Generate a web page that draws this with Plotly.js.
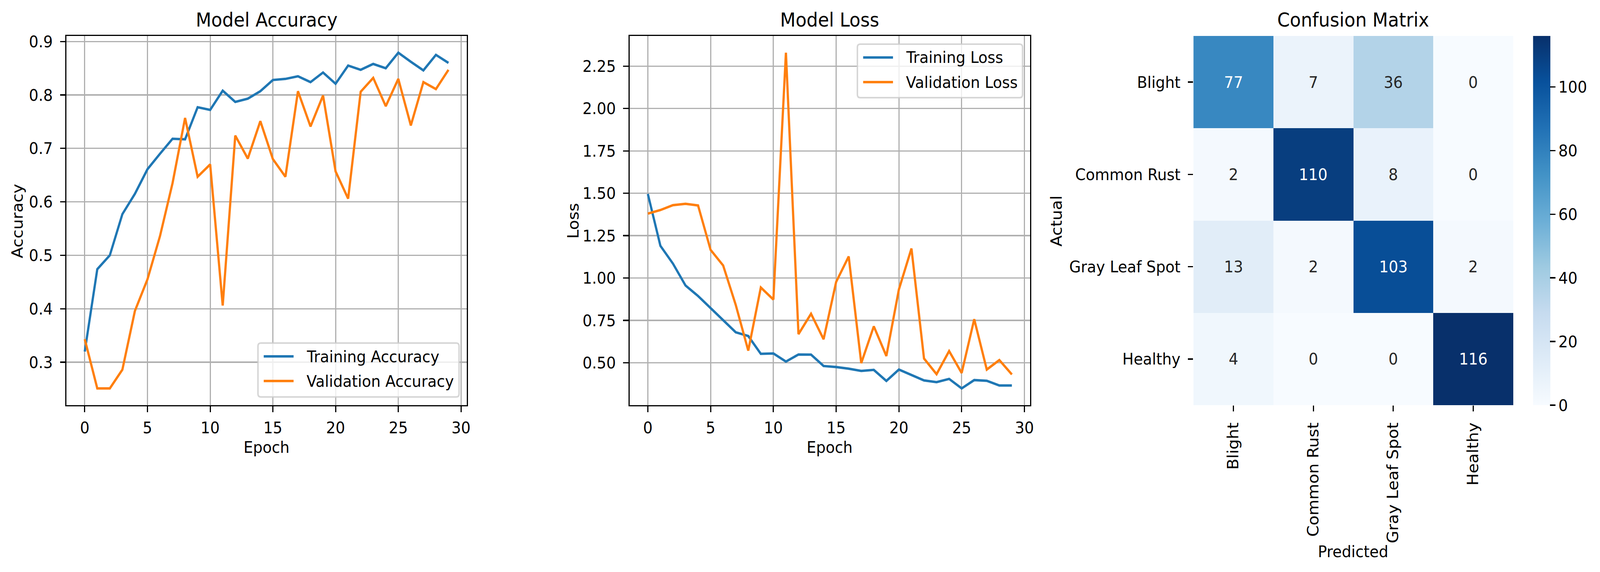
<!DOCTYPE html>
<html>
<head>
<meta charset="utf-8">
<script src="https://cdn.plot.ly/plotly-3.0.1.min.js"></script>
<style>
  html, body { margin: 0; padding: 0; background: #fff; overflow: hidden; }
  #chart { width: 4447px; height: 1464px; transform-origin: 0 0; }
</style>
</head>
<body>
<div id="chart"></div>
<script>
// training history
const epochs = [0, 1, 2, 3, 4, 5, 6, 7, 8, 9, 10, 11, 12, 13, 14, 15, 16, 17, 18, 19, 20, 21, 22, 23, 24, 25, 26, 27, 28, 29];

const trainAcc = [0.320, 0.474, 0.500, 0.577, 0.615, 0.661, 0.690, 0.718, 0.717, 0.777,
                  0.772, 0.808, 0.787, 0.793, 0.807, 0.828, 0.830, 0.835, 0.824, 0.842,
                  0.821, 0.855, 0.847, 0.858, 0.850, 0.879, 0.862, 0.846, 0.875, 0.860];
const valAcc = [0.343, 0.251, 0.251, 0.286, 0.396, 0.455, 0.536, 0.635, 0.757, 0.647,
                0.670, 0.406, 0.724, 0.681, 0.751, 0.680, 0.647, 0.807, 0.741, 0.799,
                0.657, 0.606, 0.806, 0.832, 0.779, 0.830, 0.743, 0.824, 0.811, 0.847];

const trainLoss = [1.496, 1.190, 1.085, 0.956, 0.894, 0.824, 0.750, 0.680, 0.658, 0.553,
                   0.555, 0.507, 0.549, 0.548, 0.481, 0.475, 0.465, 0.452, 0.458, 0.393,
                   0.460, 0.428, 0.396, 0.386, 0.405, 0.349, 0.398, 0.394, 0.366, 0.366];
const valLoss = [1.380, 1.401, 1.430, 1.438, 1.428, 1.166, 1.074, 0.842, 0.572, 0.944,
                 0.873, 2.329, 0.669, 0.789, 0.639, 0.977, 1.127, 0.498, 0.715, 0.540,
                 0.933, 1.174, 0.525, 0.433, 0.569, 0.440, 0.757, 0.460, 0.516, 0.431];

// confusion matrix (rows = actual, cols = predicted)
const classes = ['Blight', 'Common Rust', 'Gray Leaf Spot', 'Healthy'];
const confusion = [
  [77, 7, 36, 0],
  [2, 110, 8, 0],
  [13, 2, 103, 2],
  [4, 0, 0, 116]
];

// drawn on the 4447x1464 canvas of the reference, then fitted to the window
const W = 4447, H = 1464;
const FS = 41.7;     // 10pt @ 300dpi
const TFS = 50;      // 12pt
const LW = 6.25;     // 1.5pt lines
const AX = 3.3;      // 0.8pt spines / grid
const TL = 14.6;     // tick length
const BLUE = '#1f77b4', ORANGE = '#ff7f0e';
const FONT = 'DejaVu Sans';

const px = v => v / W;
const py = v => 1 - v / H;

const boxTop = 92, boxBottom = 1037;
const boxes = [[185, 1297], [1750, 2863], [3317, 4206]];

const blues = [
  [0.0, '#f7fbff'], [0.125, '#deebf7'], [0.25, '#c6dbef'], [0.375, '#9ecae1'],
  [0.5, '#6baed6'], [0.625, '#4292c6'], [0.75, '#2171b5'], [0.875, '#08519c'], [1.0, '#08306b']
];

const tf = (c) => ({ family: FONT, size: FS, color: c || '#000' });

const lineAxis = (extra) => Object.assign({
  showline: true, mirror: true, linecolor: '#000', linewidth: AX,
  showgrid: true, gridcolor: '#b0b0b0', gridwidth: AX,
  zeroline: false, ticks: 'outside', ticklen: TL, tickwidth: AX, tickcolor: '#000',
  tickfont: tf()
}, extra);

const traces = [
  { x: epochs, y: trainAcc, type: 'scatter', mode: 'lines', name: 'Training Accuracy',
    line: { color: BLUE, width: LW }, xaxis: 'x', yaxis: 'y' },
  { x: epochs, y: valAcc, type: 'scatter', mode: 'lines', name: 'Validation Accuracy',
    line: { color: ORANGE, width: LW }, xaxis: 'x', yaxis: 'y' },
  { x: epochs, y: trainLoss, type: 'scatter', mode: 'lines', name: 'Training Loss',
    line: { color: BLUE, width: LW }, xaxis: 'x2', yaxis: 'y2' },
  { x: epochs, y: valLoss, type: 'scatter', mode: 'lines', name: 'Validation Loss',
    line: { color: ORANGE, width: LW }, xaxis: 'x2', yaxis: 'y2' },
  { z: confusion, x: classes, y: classes, type: 'heatmap', xaxis: 'x3', yaxis: 'y3',
    colorscale: blues, zmin: 0, zmax: 116, showscale: true,
    colorbar: {
      x: px(4261), xanchor: 'left', y: py(boxBottom), yanchor: 'bottom',
      lenmode: 'pixels', len: boxBottom - boxTop, thicknessmode: 'pixels', thickness: 48,
      outlinewidth: 0, ticks: 'outside', ticklen: TL, tickwidth: AX, tickcolor: '#000',
      tickvals: [0, 20, 40, 60, 80, 100], xpad: 0, ypad: 0,
      tickfont: tf()
    } }
];

const notes = [];
const shapes = [];

// cell values, white on dark cells like seaborn
confusion.forEach((row, ri) => row.forEach((v, ci) => {
  notes.push({
    x: classes[ci], y: classes[ri], xref: 'x3', yref: 'y3', text: String(v), showarrow: false,
    font: tf(v > 58 ? '#ffffff' : '#262626')
  });
}));

// plain text centred on a canvas point
const label = (txt, cx, cy, size, angle) => ({
  x: px(cx), y: py(cy), xref: 'paper', yref: 'paper', showarrow: false,
  xanchor: 'center', yanchor: 'middle', text: txt, textangle: angle || 0,
  font: { family: FONT, size: size, color: '#000' }
});

notes.push(label('Model Accuracy', 741, 51, TFS));
notes.push(label('Model Loss', 2306, 51, TFS));
notes.push(label('Confusion Matrix', 3761, 51, TFS));
notes.push(label('Epoch', 741, 1144, FS));
notes.push(label('Epoch', 2306, 1144, FS));
notes.push(label('Accuracy', 49, 566, FS, -90));
notes.push(label('Loss', 1594, 566, FS, -90));
notes.push(label('Actual', 2937, 566, FS, -90));
notes.push(label('Predicted', 3761, 1411, FS));

// matplotlib-style legend: rounded translucent box, 2em line handles
function addLegend(x0, x1, y0, y1, names, colors, rowYs) {
  const r = 8;
  const X = v => px(v), Y = v => py(v);
  shapes.push({
    type: 'path', xref: 'paper', yref: 'paper',
    path: `M ${X(x0 + r)},${Y(y0)} L ${X(x1 - r)},${Y(y0)} Q ${X(x1)},${Y(y0)} ${X(x1)},${Y(y0 + r)} ` +
          `L ${X(x1)},${Y(y1 - r)} Q ${X(x1)},${Y(y1)} ${X(x1 - r)},${Y(y1)} ` +
          `L ${X(x0 + r)},${Y(y1)} Q ${X(x0)},${Y(y1)} ${X(x0)},${Y(y1 - r)} ` +
          `L ${X(x0)},${Y(y0 + r)} Q ${X(x0)},${Y(y0)} ${X(x0 + r)},${Y(y0)} Z`,
    fillcolor: 'rgba(255,255,255,0.8)', line: { color: 'rgba(204,204,204,0.8)', width: 4.2 }
  });
  names.forEach((n, i) => {
    shapes.push({
      type: 'line', xref: 'paper', yref: 'paper',
      x0: X(x0 + 16), x1: X(x0 + 99), y0: Y(rowYs[i]), y1: Y(rowYs[i]),
      line: { color: colors[i], width: LW }
    });
    notes.push({
      x: X(x0 + 133), y: Y(rowYs[i]), xref: 'paper', yref: 'paper', showarrow: false,
      xanchor: 'left', yanchor: 'middle', text: n, font: tf()
    });
  });
}
addLegend(717, 1276, 878, 1016, ['Training Accuracy', 'Validation Accuracy'], [BLUE, ORANGE], [912, 975]);
addLegend(2383, 2842, 113, 250, ['Training Loss', 'Validation Loss'], [BLUE, ORANGE], [147, 210]);

const layout = {
  width: W, height: H, margin: { l: 0, r: 0, t: 0, b: 0 },
  paper_bgcolor: '#fff', plot_bgcolor: '#fff',
  font: tf(), showlegend: false,
  xaxis: lineAxis({ domain: [px(boxes[0][0]), px(boxes[0][1])], anchor: 'y', range: [-1.45, 30.45],
    tickvals: [0, 5, 10, 15, 20, 25, 30], ticklabelstandoff: 4 }),
  yaxis: lineAxis({ domain: [py(boxBottom), py(boxTop)], anchor: 'x', range: [0.2196, 0.9104],
    tickvals: [0.3, 0.4, 0.5, 0.6, 0.7, 0.8, 0.9], ticklabelstandoff: 12 }),
  xaxis2: lineAxis({ domain: [px(boxes[1][0]), px(boxes[1][1])], anchor: 'y2', range: [-1.45, 30.45],
    tickvals: [0, 5, 10, 15, 20, 25, 30], ticklabelstandoff: 4 }),
  yaxis2: lineAxis({ domain: [py(boxBottom), py(boxTop)], anchor: 'x2', range: [0.25, 2.428],
    tickvals: [0.5, 0.75, 1.0, 1.25, 1.5, 1.75, 2.0, 2.25], tickformat: '.2f', ticklabelstandoff: 12 }),
  xaxis3: { domain: [px(boxes[2][0]), px(boxes[2][1])], anchor: 'y3', type: 'category',
    showline: false, showgrid: false, zeroline: false, ticks: 'outside', ticklen: TL,
    tickwidth: AX, tickcolor: '#000', tickangle: -90, ticklabelstandoff: 12, tickfont: tf() },
  yaxis3: { domain: [py(boxBottom), py(boxTop)], anchor: 'x3', type: 'category', autorange: 'reversed',
    showline: false, showgrid: false, zeroline: false, ticks: 'outside', ticklen: TL,
    tickwidth: AX, tickcolor: '#000', ticklabelstandoff: 12, tickfont: tf() },
  shapes: shapes,
  annotations: notes
};

Plotly.newPlot('chart', traces, layout, { staticPlot: true, displayModeBar: false }).then(() => {
  // the window may be narrower than the canvas: fit the whole figure into it
  const sx = (window.innerWidth || W) / W, sy = (window.innerHeight || H) / H;
  document.getElementById('chart').style.transform = `scale(${sx}, ${sy})`;
});
</script>
</body>
</html>
